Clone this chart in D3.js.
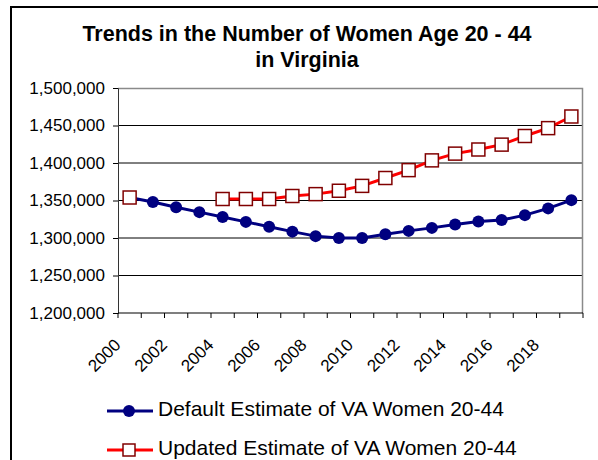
<!DOCTYPE html>
<html>
<head>
<meta charset="utf-8">
<script src="https://cdn.jsdelivr.net/npm/d3@7"></script>
<style>
  body { margin: 0; background: #fff; }
  text { font-family: Arial, "Liberation Sans", sans-serif; }
</style>
</head>
<body>
<div class="graph"></div>
<script>
// data
var years = [2000, 2001, 2002, 2003, 2004, 2005, 2006, 2007, 2008, 2009,
  2010, 2011, 2012, 2013, 2014, 2015, 2016, 2017, 2018, 2019];
var defaultEstimate = [1354000, 1348000, 1341000, 1334500, 1328000, 1321500, 1315000, 1308500, 1302500, 1300000,
  1300000, 1305000, 1309500, 1313500, 1318000, 1322000, 1324000, 1330500, 1339500, 1350500];
var updatedEstimate = [1354000, null, null, null, 1352000, 1352000, 1352000, 1356000, 1358500, 1363000,
  1369500, 1380000, 1390500, 1403500, 1412500, 1418000, 1424500, 1436000, 1446500, 1462000];
var yTicks = [1200000, 1250000, 1300000, 1350000, 1400000, 1450000, 1500000];
var xLabelYears = [2000, 2002, 2004, 2006, 2008, 2010, 2012, 2014, 2016, 2018];
var titleLines = ["Trends in the Number of Women Age 20 - 44", "in Virginia"];
var seriesNames = ["Default Estimate of VA Women 20-44", "Updated Estimate of VA Women 20-44"];

var width = 598, height = 460;
var margin = { top: 88, right: 15, bottom: 147, left: 118 },
    innerW = width - margin.left - margin.right,
    innerH = height - margin.top - margin.bottom;

var svg = d3.select(".graph").append("svg")
    .attr("width", width)
    .attr("height", height);

// outer chart frame
svg.append("rect")
    .attr("x", 11).attr("y", 7)
    .attr("width", 700).attr("height", 600)
    .attr("fill", "none")
    .attr("stroke", "#000")
    .attr("stroke-width", 2);

// title
svg.append("g").selectAll("text")
    .data(titleLines)
    .join("text")
    .attr("x", 307)
    .attr("y", (d, i) => 41 + i * 26)
    .attr("text-anchor", "middle")
    .attr("font-weight", "bold")
    .attr("font-size", "21.5px")
    .text(d => d);

var g = svg.append("g")
    .attr("transform", `translate(${margin.left},${margin.top})`);

var x = d3.scaleBand().domain(years).range([0, innerW]);
var y = d3.scaleLinear().domain([1200000, 1500000]).range([innerH, 0]);
var cx = d => x(d) + x.bandwidth() / 2;

// gridlines
g.append("g").selectAll("line")
    .data(yTicks.slice(1, -1))
    .join("line")
    .attr("x1", 0).attr("x2", innerW)
    .attr("y1", d => y(d)).attr("y2", d => y(d))
    .attr("stroke", "#000")
    .attr("stroke-width", 1);

// plot border top / right
g.append("path")
    .attr("d", `M0,0.5H${innerW - 0.5}V${innerH}`)
    .attr("fill", "none")
    .attr("stroke", "#8a8a8a")
    .attr("stroke-width", 1.5);

// y axis
var yAxis = g.append("g")
    .call(d3.axisLeft(y).tickValues(yTicks).tickSize(5).tickPadding(8).tickFormat(d3.format(",")));
yAxis.select(".domain").attr("stroke", "#333");
yAxis.selectAll("text").attr("font-size", "17px").attr("fill", "#000");

// x axis, ticks between categories
var xAxis = g.append("g")
    .attr("transform", `translate(0,${innerH})`);
xAxis.append("line")
    .attr("x1", 0).attr("x2", innerW)
    .attr("stroke", "#000").attr("stroke-width", 1.2);
xAxis.selectAll(".tk")
    .data(years.concat([null]))
    .join("line")
    .attr("class", "tk")
    .attr("x1", (d, i) => i * x.step()).attr("x2", (d, i) => i * x.step())
    .attr("y1", 0).attr("y2", 5)
    .attr("stroke", "#000");
xAxis.selectAll(".lbl")
    .data(xLabelYears)
    .join("text")
    .attr("class", "lbl")
    .attr("transform", d => `translate(${cx(d) - 8},33) rotate(-45)`)
    .attr("text-anchor", "end")
    .attr("font-size", "17px")
    .text(d => d);

// the two series
var blue = years.map((d, i) => ({ year: d, value: defaultEstimate[i] }));
var red = years.map((d, i) => ({ year: d, value: updatedEstimate[i] }));

var line = d3.line()
    .defined(d => d.value != null)
    .x(d => cx(d.year))
    .y(d => y(d.value));

g.append("path")
    .datum(blue)
    .attr("fill", "none")
    .attr("stroke", "#000080")
    .attr("stroke-width", 3)
    .attr("d", line);
g.append("g").selectAll("circle")
    .data(blue)
    .join("circle")
    .attr("cx", d => cx(d.year))
    .attr("cy", d => y(d.value))
    .attr("r", 6)
    .attr("fill", "#000080");

g.append("path")
    .datum(red)
    .attr("fill", "none")
    .attr("stroke", "#ff0000")
    .attr("stroke-width", 3)
    .attr("d", line);
g.append("g").selectAll("rect")
    .data(red.filter(d => d.value != null))
    .join("rect")
    .attr("x", d => cx(d.year) - 6.5)
    .attr("y", d => y(d.value) - 6.5)
    .attr("width", 13).attr("height", 13)
    .attr("fill", "#fff")
    .attr("stroke", "#800000")
    .attr("stroke-width", 1.5);

// legend
var legend = svg.append("g");
var ly = [411, 450];
legend.selectAll(".ll")
    .data(seriesNames)
    .join("line")
    .attr("class", "ll")
    .attr("x1", 107).attr("x2", 153)
    .attr("y1", (d, i) => ly[i]).attr("y2", (d, i) => ly[i])
    .attr("stroke", (d, i) => i === 0 ? "#000080" : "#ff0000")
    .attr("stroke-width", 3);
legend.append("circle")
    .attr("cx", 129).attr("cy", ly[0]).attr("r", 6)
    .attr("fill", "#000080");
legend.append("rect")
    .attr("x", 123).attr("y", ly[1] - 6)
    .attr("width", 12).attr("height", 12)
    .attr("fill", "#fff")
    .attr("stroke", "#800000")
    .attr("stroke-width", 1.5);
legend.selectAll(".lt")
    .data(seriesNames)
    .join("text")
    .attr("class", "lt")
    .attr("x", 158)
    .attr("y", (d, i) => ly[i] + 5)
    .attr("font-size", "21px")
    .text(d => d);
</script>
</body>
</html>
